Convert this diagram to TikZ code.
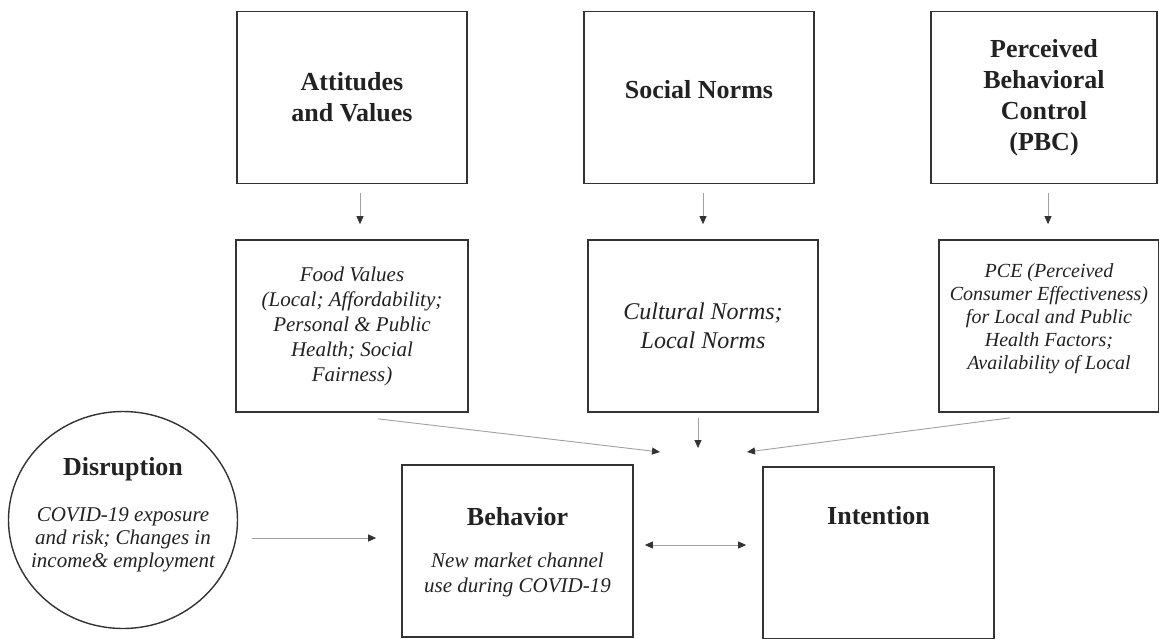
\documentclass[tikz,border=0pt]{standalone}
\usepackage{fontspec}
\setmainfont{Liberation Serif}
\usepackage{tikz}
\usetikzlibrary{shapes.geometric, arrows.meta, positioning}
\definecolor{boxgray}{HTML}{333333}
\definecolor{inkgray}{HTML}{222222}
\definecolor{linegray}{HTML}{A0A0A0}
\definecolor{headgray}{HTML}{333333}
\tikzstyle{factor} = [rectangle, minimum width=230pt, minimum height=172pt, inner sep=0pt, text centered, align=center, draw=boxgray, line width=1.7pt, text=inkgray]
\tikzstyle{heading} = [font=\fontsize{26}{31}\selectfont\bfseries, text=inkgray, align=center]
\tikzstyle{detail} = [font=\fontsize{21}{24.5}\selectfont\itshape, text=inkgray, align=center]
\tikzstyle{arrow} = [draw=linegray, line width=0.9pt, ->, >={Triangle[length=8pt, width=7pt, color=headgray]}]

\begin{document}
\begin{tikzpicture}[x=1pt, y=-1pt, node distance=228.5pt]
        \useasboundingbox (0,0) rectangle (1159,638);

        \node (attitudes) [factor, heading] at (352,97.5) {Attitudes\\and Values};
        \node (social) [factor, heading, text depth=16pt] at (699,97.5) {Social Norms};
        \node (pbc) [factor, heading, minimum width=226pt] at (1044,97.5) {Perceived\\Behavioral\\Control\\(PBC)};

        \node (food) [factor, detail, minimum width=232pt, below of=attitudes, font=\fontsize{21}{25}\selectfont\itshape] {Food Values\\(Local; Affordability;\\Personal \& Public\\Health; Social\\Fairness)};
        \node (cultural) [factor, detail, below of=social, xshift=4pt, font=\fontsize{24}{29}\selectfont\itshape] {Cultural Norms;\\Local Norms};
        \node (pce) [factor, detail, minimum width=220pt, below of=pbc, xshift=5pt, text depth=18pt, font=\fontsize{20}{23}\selectfont\itshape] {PCE (Perceived\\Consumer Effectiveness)\\for Local and Public\\Health Factors;\\Availability of Local};

        \node (disruption) [ellipse, draw=boxgray, line width=1.4pt, minimum width=229pt, minimum height=217pt, inner sep=0pt] at (123,520) {};
        \node (disruptiontitle) [heading] at ([yshift=51pt]disruption.center) {Disruption};
        \node (disruptiontext) [detail, font=\fontsize{21}{23}\selectfont\itshape] at ([yshift=-20pt]disruption.center) {COVID-19 exposure\\and risk; Changes in\\income\& employment};

        \node (behavior) [factor, minimum width=231pt] at (517.5,551) {};
        \node (behaviortitle) [heading] at ([yshift=34pt]behavior.center) {Behavior};
        \node (behaviortext) [detail] at ([yshift=-24pt]behavior.center) {New market channel\\use during COVID-19};

        \node (intention) [factor, minimum width=231pt] at (878.5,553) {};
        \node (intentiontitle) [heading] at ([yshift=37pt]intention.center) {Intention};

        \coordinate (meet) at (703,452);

        \draw [arrow] ([xshift=8pt,yshift=-9pt]attitudes.south) -- ([xshift=8pt,yshift=15pt]food.north);
        \draw [arrow] ([xshift=4pt,yshift=-9pt]social.south) -- ([yshift=15pt]cultural.north);
        \draw [arrow] ([xshift=4pt,yshift=-9pt]pbc.south) -- ([xshift=-1pt,yshift=15pt]pce.north);

        \draw [arrow] ([xshift=26pt,yshift=-6pt]food.south) -- ([xshift=-43pt]meet);
        \draw [arrow] ([xshift=-5pt,yshift=-5pt]cultural.south) -- ([xshift=-5pt,yshift=4pt]meet);
        \draw [arrow] ([xshift=-39pt,yshift=-5pt]pce.south) -- ([xshift=44pt]meet);

        \draw [arrow, shorten <=13.5pt, shorten >=25pt] (disruption.east |- 0,538) -- (behavior.west |- 0,538);
        \draw [arrow, <->, shorten <=11pt, shorten >=16pt] (behavior.east |- 0,545) -- (intention.west |- 0,545);
    \end{tikzpicture}
\end{document}
